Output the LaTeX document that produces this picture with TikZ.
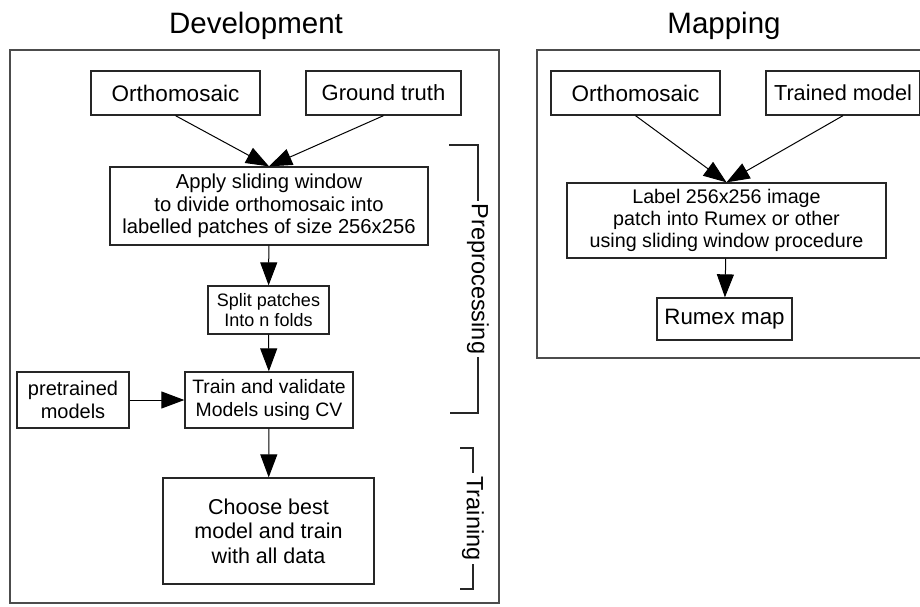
\documentclass[tikz,border=0pt]{standalone}
\usepackage{fontspec}
\setmainfont{Liberation Sans}
\usetikzlibrary{arrows.meta}
\usetikzlibrary{positioning}

\newcommand{\fsz}[2]{\fontsize{#1}{#2}\selectfont}

\begin{document}
\begin{tikzpicture}[x=1pt, y=-1pt,
		every node/.style={align=center, inner sep=0pt},
		box/.style={draw=black!85, line width=1.3pt},
		title/.style={font=\fsz{29.5}{30}, anchor=base},
		phase/.style={font=\fsz{23.5}{25}, fill=white, inner xsep=3pt, rotate=-90},
		frame/.style={draw=black!70, line width=1.5pt},
		bracket/.style={draw=black!85, line width=1.2pt},
		arr/.style={draw=black, line width=1pt, -{Triangle[length=23pt, width=17pt]}}]
	\useasboundingbox (0,0) rectangle (920,606);

	% frames and titles
	\draw[frame] (10,50) rectangle (499,603);
	\draw[frame] (537,50) rectangle (930,358);
	\node[title] (tDev) at (256,33) {Development};
	\node[title] (tMap) at (724,33) {Mapping};

	% development
	\node[box, font=\fsz{22.5}{25}, minimum width=169pt, minimum height=44pt] (ortho) at (175.5,93) {Orthomosaic};
	\node[box, font=\fsz{22}{25}, minimum width=155pt, minimum height=44pt] (truth) at (383.5,93) {Ground truth};
	\node[box, font=\fsz{20.2}{22.5}, minimum width=318pt, minimum height=78pt] (slide) at (269,206) {Apply sliding window\\to divide orthomosaic into\\labelled patches of size 256x256};
	\node[box, font=\fsz{18}{19.5}, minimum width=121pt, minimum height=48pt] (split) at (268.5,310) {Split patches\\Into n folds};
	\node[box, font=\fsz{19.4}{23}, minimum width=168pt, minimum height=56pt] (train) at (269,400) {Train and validate\\Models using CV};
	\node[box, font=\fsz{20}{23}, minimum width=112pt, minimum height=56pt] (pre) at (73,400) {pretrained\\models};
	\node[box, font=\fsz{21.5}{24.5}, minimum width=211pt, minimum height=106pt] (best) at (268.5,531) {Choose best\\model and train\\with all data};

	\draw[arr] (ortho.south) -- (slide.north);
	\draw[arr] (truth.south) -- (slide.north);
	\draw[arr] (slide) -- (split);
	\draw[arr] (split) -- (train);
	\draw[arr] (pre) -- (train);
	\draw[arr] (train) -- (best);

	% phase brackets
	\draw[bracket] (449,145) -- (478,145) -- (478,413) -- (450,413);
	\node[phase] (pPre) at (478,279) {Preprocessing};
	\draw[bracket] (460,448) -- (473,448) -- (473,589) -- (460,589);
	\node[phase] (pTrain) at (473,518.5) {Training};

	% mapping
	\node[box, font=\fsz{22.5}{25}, minimum width=169pt, minimum height=44pt] (ortho2) at (635.5,93) {Orthomosaic};
	\node[box, font=\fsz{21.7}{25}, minimum width=154pt, minimum height=44pt] (model) at (843,93) {Trained model};
	\node[box, font=\fsz{19.7}{22}, minimum width=319pt, minimum height=75pt] (label) at (726.5,220.5) {Label 256x256 image\\patch into Rumex or other\\using sliding window procedure};
	\node[box, font=\fsz{22.3}{25}, minimum width=135pt, minimum height=42pt] (rmap) at (724.5,319) {Rumex map};

	\draw[arr] (ortho2.south) -- (label.north);
	\draw[arr] (model.south) -- (label.north);
	\draw[arr] (label) -- (rmap);
\end{tikzpicture}
\end{document}
